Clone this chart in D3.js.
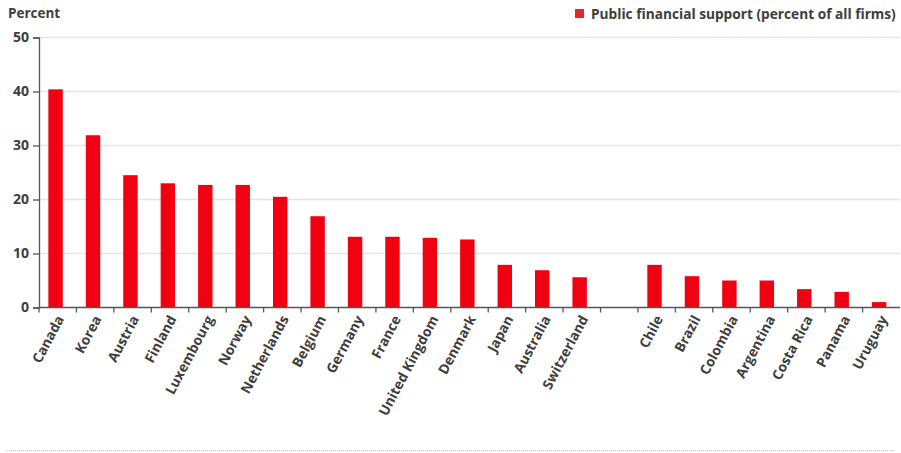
<!DOCTYPE html>
<html>
<head>
<meta charset="utf-8">
<script src="https://cdn.jsdelivr.net/npm/d3@7/dist/d3.min.js"></script>
<style>
  html, body { margin: 0; padding: 0; background: #fff; }
  svg { display: block; }
  text { font-family: "Open Sans", Lato, sans-serif; font-weight: 700; fill: #3d3d3d; }
</style>
</head>
<body>
<svg id="chart" width="901" height="453"></svg>
<script>
const categories = ["Canada","Korea","Austria","Finland","Luxembourg","Norway","Netherlands","Belgium","Germany","France","United Kingdom","Denmark","Japan","Australia","Switzerland","","Chile","Brazil","Colombia","Argentina","Costa Rica","Panama","Uruguay"];
const values = [40.4,31.9,24.5,23.0,22.7,22.7,20.5,16.9,13.1,13.1,12.9,12.6,7.9,6.9,5.6,null,7.9,5.8,5.0,5.0,3.4,2.9,1.0];
const yTicks = [0,10,20,30,40,50];
const seriesName = "Public financial support (percent of all firms)";
const yTitle = "Percent";

const svg = d3.select("#chart");
const margin = {left: 39};

const keys = categories.map((c, i) => c === "" ? "__gap" + i : c);
const x = d3.scaleBand().domain(keys).range([margin.left, 900]).padding(0);
const y = d3.scaleLinear().domain([0, 50]).range([307.5, 37.5]);
const bw = x.bandwidth();

// grid
svg.append("g").selectAll("line").data(yTicks.filter(t => t > 0)).join("line")
  .attr("x1", margin.left).attr("x2", 900)
  .attr("y1", d => y(d)).attr("y2", d => y(d))
  .attr("stroke", "#e4e4e4").attr("stroke-width", 1.5);

// bars
svg.append("g").selectAll("rect").data(values.map((v, i) => ({k: keys[i], v})).filter(d => d.v != null)).join("rect")
  .attr("x", d => x(d.k) + bw * 0.25)
  .attr("width", bw * 0.385)
  .attr("y", d => y(d.v))
  .attr("height", d => y(0) - y(d.v))
  .attr("fill", "#f00010");

// y axis
const yAxis = svg.append("g").attr("transform", `translate(${margin.left},0)`)
  .call(d3.axisLeft(y).tickValues(yTicks).tickSize(6).tickPadding(4));
yAxis.select(".domain").attr("stroke", "#555").attr("stroke-width", 1.3);
yAxis.selectAll(".tick line").attr("stroke", "#555").attr("stroke-width", 1.3);
yAxis.selectAll(".tick text").style("font-size", "14px").style("font-family", "'Open Sans', sans-serif").style("font-weight", 700).attr("fill", "#3d3d3d");

// x axis
const xg = svg.append("g").attr("transform", `translate(0,${y(0)})`);
xg.append("line").attr("x1", margin.left).attr("x2", 900).attr("stroke", "#555").attr("stroke-width", 1.3);
const bounds = keys.map(k => x(k));
xg.selectAll("line.tk").data(bounds).join("line").attr("class", "tk")
  .attr("x1", d => d).attr("x2", d => d).attr("y1", 0).attr("y2", 5)
  .attr("stroke", "#555").attr("stroke-width", 1.3);
xg.selectAll("text").data(keys.filter((k, i) => categories[i] !== "")).join("text")
  .attr("transform", d => `translate(${x(d) + bw / 2 + 2.5},${9}) rotate(-62)`)
  .attr("text-anchor", "end").attr("dy", "0.35em")
  .style("font-size", "13.8px")
  .text(d => d);

// y title
svg.append("text").attr("x", 8).attr("y", 18).style("font-size", "13.5px").text(yTitle);

// legend
svg.append("rect").attr("x", 575).attr("y", 9).attr("width", 9).attr("height", 9).attr("fill", "#e8242c");
svg.append("text").attr("x", 591).attr("y", 18.5).style("font-size", "13.7px").text(seriesName);

// bottom dotted rule
svg.append("line").attr("x1", 7).attr("x2", 894).attr("y1", 450.5).attr("y2", 450.5)
  .attr("stroke", "#c8c8c8").attr("stroke-width", 1).attr("stroke-dasharray", "1,1");
</script>
</body>
</html>
